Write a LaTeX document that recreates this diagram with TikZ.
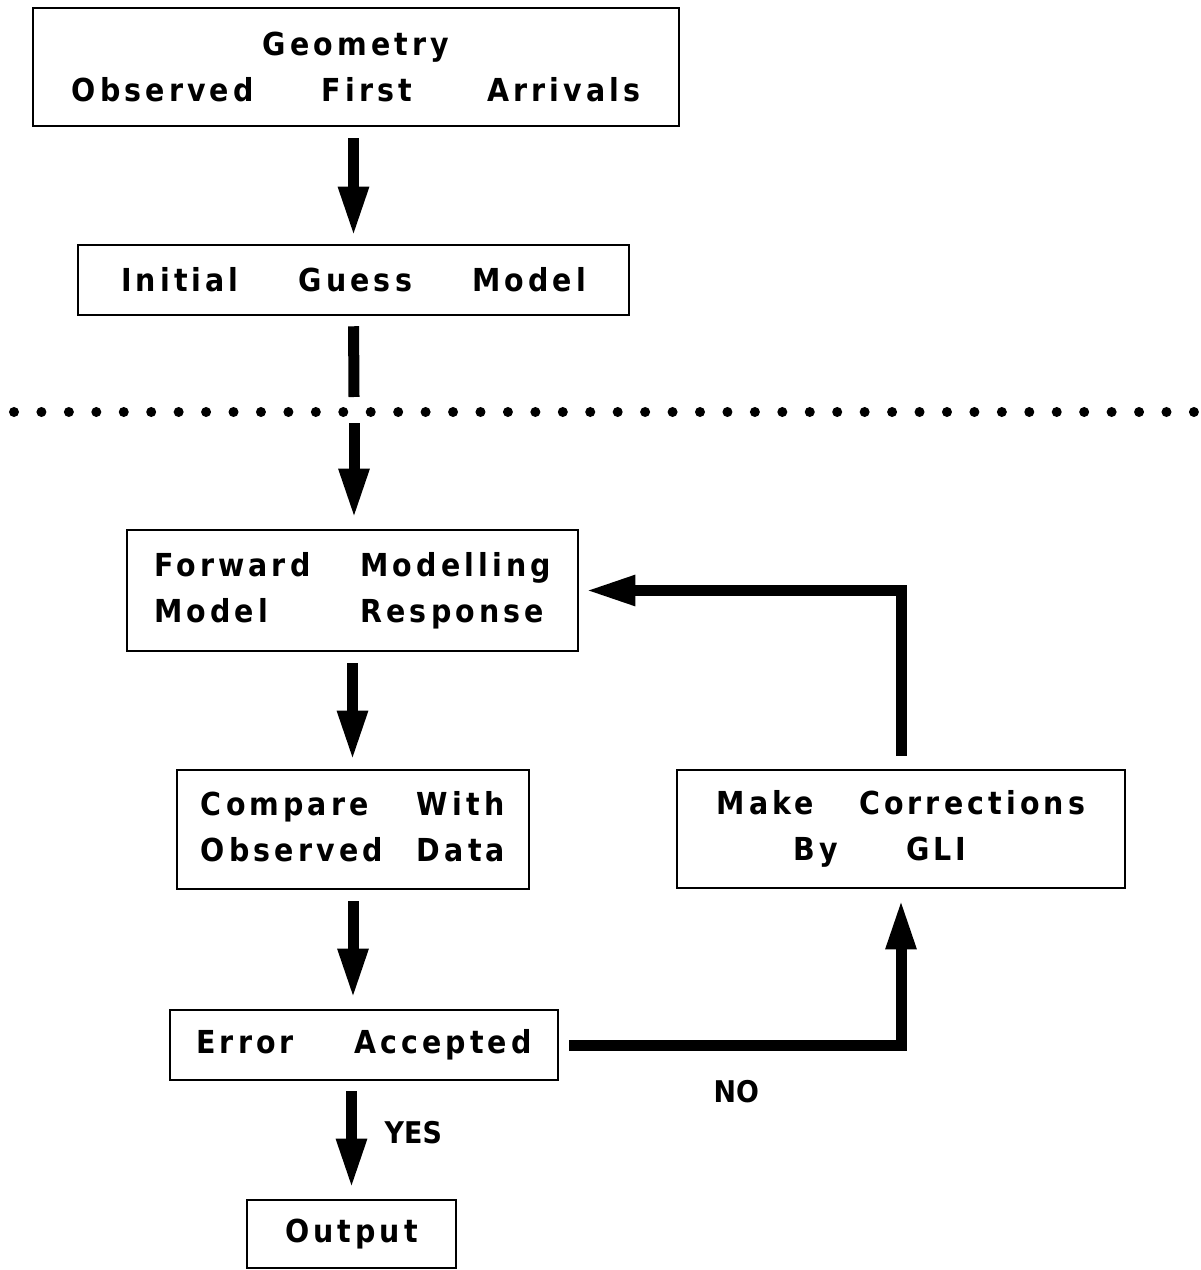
\documentclass[tikz,border=0pt]{standalone}
\usepackage{fontspec}
\setmainfont{DejaVu Sans Condensed}[BoldFont={DejaVu Sans Condensed Bold}, LetterSpace=13]
\newfontfamily\lblfont{DejaVu Sans Condensed}[BoldFont={DejaVu Sans Condensed Bold}]
\usetikzlibrary{arrows.meta}
\newcommand{\wsp}{\hspace{0.6cm}}

\begin{document}
\begin{tikzpicture}[x=0.01cm, y=-0.01cm,
    box/.style={draw, line width=0.7pt, inner sep=0pt, align=center,
      font=\bfseries\fontsize{9}{13}\selectfont},
    flow/.style={line width=0.11cm, -{Triangle[width=0.28cm,length=0.5cm]}},
    bar/.style={line width=0.11cm},
    lbl/.style={font=\lblfont\bfseries\fontsize{8.5}{10}\selectfont}]
    \useasboundingbox (0,0) rectangle (1201,1270);

    \coordinate (cutA) at (354,397);
    \coordinate (cutB) at (354,423);

    \node[box, minimum width=6.46cm, minimum height=1.18cm] (geo) at (356,67)
        {Geometry\\Observed\hspace{0.68cm}First\hspace{0.75cm}Arrivals};
    \node[box, minimum width=5.51cm, minimum height=0.70cm] (init) at (353.5,280)
        {Initial\wsp Guess\wsp Model};
    \node[box, minimum width=4.51cm, minimum height=1.21cm] (fwd) at (352.5,590.5)
        {\begin{tabular}{@{}l@{\hspace{0.5cm}}l@{}}Forward & Modelling\\ Model & Response\end{tabular}};
    \node[box, minimum width=3.52cm, minimum height=1.19cm] (cmp) at (353,829.5)
        {\begin{tabular}{@{}l@{\hspace{0.34cm}}l@{}}Compare & With\\ Observed & Data\end{tabular}};
    \node[box, minimum width=4.48cm, minimum height=1.18cm] (corr) at (901,829)
        {Make\hspace{0.45cm}Corrections\\By\hspace{0.68cm}GLI\hspace*{0.42cm}};
    \node[box, minimum width=3.88cm, minimum height=0.70cm] (err) at (364,1045)
        {Error\wsp Accepted};
    \node[box, minimum width=2.09cm, minimum height=0.68cm] (out) at (351.5,1234)
        {Output};

    % dotted cut line
    \foreach \i in {0,...,43}
        \fill (14+27.44*\i,412) circle[radius=0.05cm];

    \draw[flow, shorten <=0.11cm, shorten >=0.07cm] (geo.south -| init.south) -- (init.north);
    \draw[bar, shorten <=0.1cm] (init.south) -- (cutA);
    \draw[flow, shorten >=0.1cm] (cutB) -- (cutB |- fwd.north);
    \draw[flow, shorten <=0.11cm, shorten >=0.08cm] (fwd.south) -- (fwd.south |- cmp.north);
    \draw[flow, shorten <=0.11cm, shorten >=0.1cm] (cmp.south) -- (cmp.south |- err.north);
    \draw[flow, shorten <=0.1cm, shorten >=0.1cm] (err.south -| out.north) -- (out.north)
        node[midway, right=0.16cm, yshift=0.07cm, lbl] (yes) {YES};
    \draw[flow, shorten <=0.1cm, shorten >=0.1cm] (err.east) -| (corr.south)
        node[pos=0.25, below=0.18cm, xshift=0.06cm, lbl] (no) {NO};
    \draw[flow, shorten <=0.13cm, shorten >=0.06cm] (corr.north) |- (fwd.east);
\end{tikzpicture}
\end{document}
